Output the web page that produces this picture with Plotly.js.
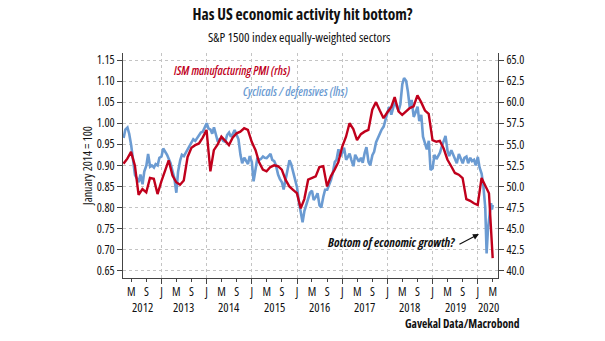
<!DOCTYPE html>
<html>
<head>
<meta charset="utf-8">
<script src="https://cdn.plot.ly/plotly-3.0.1.min.js"></script>
<style>
html,body{margin:0;padding:0;background:#fff;}
#chart{width:605px;height:341px;}
svg text{font-stretch:condensed !important;}
</style>
</head>
<body>
<div id="chart"></div>
<script>
// ISM manufacturing PMI (rhs), monthly, Feb 2012 .. Apr 2020 (plotted at month end)
var pmiStart = [2012, 2];
var pmiValues = [
  52.7, 53.3, 54.1, 52.5, 49.0, 49.7, 49.3, 51.0, 50.9, 49.1, 50.6,
  52.0, 53.1, 51.3, 50.5, 50.2, 50.7, 53.5, 54.6, 54.9, 55.1, 55.8, 56.7,
  51.8, 54.3, 55.0, 55.9, 55.4, 54.9, 55.8, 56.3, 56.5, 56.9, 56.7, 55.3,
  54.3, 52.9, 52.0, 51.8, 52.3, 52.5, 52.4, 52.0, 50.8, 50.0, 49.6, 49.2,
  47.4, 48.5, 50.8, 51.0, 51.2, 52.3, 52.4, 50.0, 51.2, 52.0, 52.9, 54.7,
  55.9, 57.5, 56.8, 55.5, 56.2, 56.5, 56.7, 59.1, 60.0, 59.0, 58.1, 58.8,
  59.4, 60.6, 58.9, 58.5, 58.9, 59.3, 59.5, 60.8, 60.0, 59.0, 58.6, 55.5,
  55.3, 55.4, 54.5, 53.2, 52.4, 51.6, 51.4, 51.0, 48.5, 48.3, 48.0, 47.8,
  51.0, 50.2, 49.2, 41.5
];

// Cyclicals / defensives (lhs), Jan 2014 = 1.00, sampled on the 1st and 15th, Mar 2012 .. Feb 2020
var ratioStart = [2012, 3];
var ratioValues = [
  0.965, 0.985, 0.990, 0.975, 0.948, 0.921, 0.877, 0.870, 0.860, 0.878, 0.855, 0.885, 0.900, 0.927, 0.897, 0.900, 0.895, 0.903, 0.900, 0.918,
  0.921, 0.940, 0.932, 0.925, 0.915, 0.905, 0.885, 0.870, 0.835, 0.885, 0.912, 0.925, 0.922, 0.930, 0.940, 0.945, 0.955, 0.962, 0.958, 0.965, 0.972, 0.978, 0.980, 0.990,
  1.000, 0.988, 0.985, 0.975, 0.990, 0.975, 0.956, 0.962, 0.964, 0.958, 0.956, 0.972, 0.978, 0.968, 0.975, 0.984, 0.972, 0.962, 0.925, 0.905, 0.918, 0.912, 0.903, 0.922,
  0.908, 0.862, 0.890, 0.918, 0.913, 0.915, 0.921, 0.918, 0.917, 0.922, 0.927, 0.913, 0.910, 0.900, 0.878, 0.868, 0.860, 0.843, 0.865, 0.885, 0.912, 0.903, 0.882, 0.865,
  0.848, 0.815, 0.785, 0.765, 0.792, 0.805, 0.822, 0.835, 0.840, 0.818, 0.825, 0.834, 0.805, 0.800, 0.826, 0.842, 0.842, 0.852, 0.865, 0.880, 0.908, 0.913, 0.938, 0.921,
  0.930, 0.942, 0.913, 0.920, 0.928, 0.913, 0.898, 0.925, 0.918, 0.909, 0.918, 0.906, 0.930, 0.943, 0.908, 0.900, 0.924, 0.932, 0.955, 0.965, 0.976, 0.985, 0.992, 1.010,
  1.025, 1.039, 1.020, 1.035, 1.055, 1.040, 1.030, 1.045, 1.093, 1.107, 1.100, 1.075, 1.035, 1.055, 1.015, 1.025, 1.039, 1.005, 1.020, 0.968, 0.950, 0.938, 0.958, 0.889,
  0.893, 0.925, 0.915, 0.921, 0.930, 0.944, 0.960, 0.970, 0.935, 0.922, 0.936, 0.925, 0.913, 0.905, 0.927, 0.915, 0.905, 0.918, 0.921, 0.905, 0.918, 0.910, 0.913, 0.900,
  0.920, 0.895, 0.880, 0.850
];
var ratioTailDates = ['2020-03-01', '2020-03-12', '2020-03-23', '2020-04-06', '2020-04-17', '2020-04-24', '2020-05-01'];
var ratioTailValues = [0.800, 0.691, 0.750, 0.785, 0.810, 0.795, 0.806];

var monthTickLetters = {5: 'M', 9: 'S', 1: 'J'};
var yearLabels = ['2012', '2013', '2014', '2015', '2016', '2017', '2018', '2019', '2020'];
var yearLabelDates = ['2012-08-01', '2013-07-01', '2014-07-01', '2015-07-01', '2016-07-01', '2017-07-01', '2018-07-01', '2019-07-01', '2020-03-25'];

function pad(n){ return (n < 10 ? '0' : '') + n; }
function iso(d){ return d.getUTCFullYear() + '-' + pad(d.getUTCMonth() + 1) + '-' + pad(d.getUTCDate()); }

var pmiDates = pmiValues.map(function(v, i){
  var m = pmiStart[1] - 1 + i;
  return iso(new Date(Date.UTC(pmiStart[0], m + 1, 0)));
});
var ratioDates = ratioValues.map(function(v, i){
  var m = ratioStart[1] - 1 + Math.floor(i / 2);
  return iso(new Date(Date.UTC(ratioStart[0], m, i % 2 === 0 ? 1 : 15)));
}).concat(ratioTailDates);
var ratioAll = ratioValues.concat(ratioTailValues);

var xRange = ['2012-02-25', '2020-06-12'];
var tickVals = [], tickText = [], janVals = [];
for (var y = 2012; y <= 2020; y++) {
  [1, 5, 9].forEach(function(m){
    var d = y + '-' + pad(m) + '-01';
    if (d > xRange[0] && d < xRange[1]) {
      tickVals.push(d); tickText.push(monthTickLetters[m]);
      if (m === 1) janVals.push(d);
    }
  });
}

var FONT = '"Open Sans", Lato, sans-serif';
var axisColor = '#444';
var textColor = '#111';

var traces = [
  {x: ratioDates, y: ratioAll, type: 'scatter', mode: 'lines', name: 'Cyclicals / defensives (lhs)',
   xaxis: 'x', yaxis: 'y', line: {color: '#6b9bd2', width: 2.6}},
  {x: pmiDates, y: pmiValues, type: 'scatter', mode: 'lines', name: 'ISM manufacturing PMI (rhs)',
   xaxis: 'x2', yaxis: 'y2', line: {color: '#c0001c', width: 2.4}}
];

var annotations = [
  {text: 'S&P 1500 index equally-weighted sectors', xref: 'paper', yref: 'paper', x: 0.47, y: 1.071,
   xanchor: 'center', yanchor: 'middle', showarrow: false, font: {family: FONT, size: 13, color: textColor}},
  {text: '<i>ISM manufacturing PMI (rhs)</i>', xref: 'paper', yref: 'paper', x: 0.128, y: 0.924,
   xanchor: 'left', yanchor: 'middle', showarrow: false, font: {family: FONT, size: 12, weight: 600, color: '#c0001c'}},
  {text: '<i>Cyclicals / defensives (lhs)</i>', xref: 'paper', yref: 'paper', x: 0.315, y: 0.827,
   xanchor: 'left', yanchor: 'middle', showarrow: false, font: {family: FONT, size: 12, weight: 600, color: '#6b9bd2'}},
  {text: '<b><i>Bottom of economic growth?</i></b>', xref: 'paper', yref: 'paper', x: 0.891, y: 0.156,
   xanchor: 'right', yanchor: 'middle', showarrow: false, font: {family: FONT, size: 12.5, color: textColor}},
  {text: '', xref: 'x', yref: 'y', x: '2020-01-10', y: 0.737, ax: -21, ay: 11, axref: 'pixel', ayref: 'pixel',
   showarrow: true, arrowhead: 2, arrowsize: 1, arrowwidth: 1.2, arrowcolor: textColor},
  {text: 'January 2014 = 100', xref: 'paper', yref: 'paper', x: -0.095, y: 0.5, textangle: -90,
   xanchor: 'center', yanchor: 'middle', showarrow: false, font: {family: FONT, size: 12, color: textColor}},
  {text: '<b>Gavekal Data/Macrobond</b>', xref: 'paper', yref: 'paper', x: 1.064, y: -0.2,
   xanchor: 'right', yanchor: 'middle', showarrow: false, font: {family: FONT, size: 11.5, color: textColor}}
];
yearLabels.forEach(function(t, i){
  annotations.push({text: t, xref: 'x', yref: 'paper', x: yearLabelDates[i], y: -0.129,
    xanchor: 'center', yanchor: 'middle', showarrow: false, font: {family: FONT, size: 12.5, color: textColor}});
});

var layout = {
  width: 605, height: 341,
  margin: {l: 123, r: 107, t: 53, b: 63, pad: 0},
  paper_bgcolor: '#fff', plot_bgcolor: '#fff',
  showlegend: false,
  font: {family: FONT, size: 12, color: textColor},
  title: {text: '<b>Has US economic activity hit bottom?</b>', x: 0.5, xanchor: 'center', y: 0.956, yanchor: 'middle',
          font: {family: FONT, size: 15.5, color: textColor}},
  xaxis: {type: 'date', range: xRange, tickmode: 'array', tickvals: tickVals, ticktext: tickText,
          ticks: 'outside', ticklen: 3, tickwidth: 1, tickcolor: axisColor,
          showline: true, linecolor: axisColor, linewidth: 1, showgrid: false, zeroline: false,
          tickfont: {family: FONT, size: 12, color: textColor}},
  xaxis2: {type: 'date', range: xRange, overlaying: 'x', side: 'bottom', tickmode: 'array', tickvals: janVals,
           ticks: 'outside', ticklen: 5, tickwidth: 1, tickcolor: axisColor, showticklabels: false,
           showline: false, showgrid: true, gridcolor: '#c4c4c4', griddash: 'dot', gridwidth: 1, zeroline: false},
  yaxis: {range: [0.6327, 1.1666], tickmode: 'linear', tick0: 0.65, dtick: 0.05, tickformat: '.2f',
          ticks: 'outside', ticklen: 5, tickwidth: 1, tickcolor: axisColor,
          showline: true, linecolor: axisColor, linewidth: 1,
          showgrid: true, gridcolor: '#c4c4c4', griddash: 'dot', gridwidth: 1, zeroline: false,
          tickfont: {family: FONT, size: 12, color: textColor}},
  yaxis2: {range: [39.14, 65.83], overlaying: 'y', side: 'right', tickmode: 'linear', tick0: 40, dtick: 2.5, tickformat: '.1f',
           ticks: 'outside', ticklen: 5, tickwidth: 1, tickcolor: axisColor,
           showline: true, linecolor: axisColor, linewidth: 1, showgrid: false, zeroline: false,
           tickfont: {family: FONT, size: 12, color: textColor}},
  annotations: annotations
};

Plotly.newPlot('chart', traces, layout, {staticPlot: true, displayModeBar: false});
</script>
</body>
</html>
